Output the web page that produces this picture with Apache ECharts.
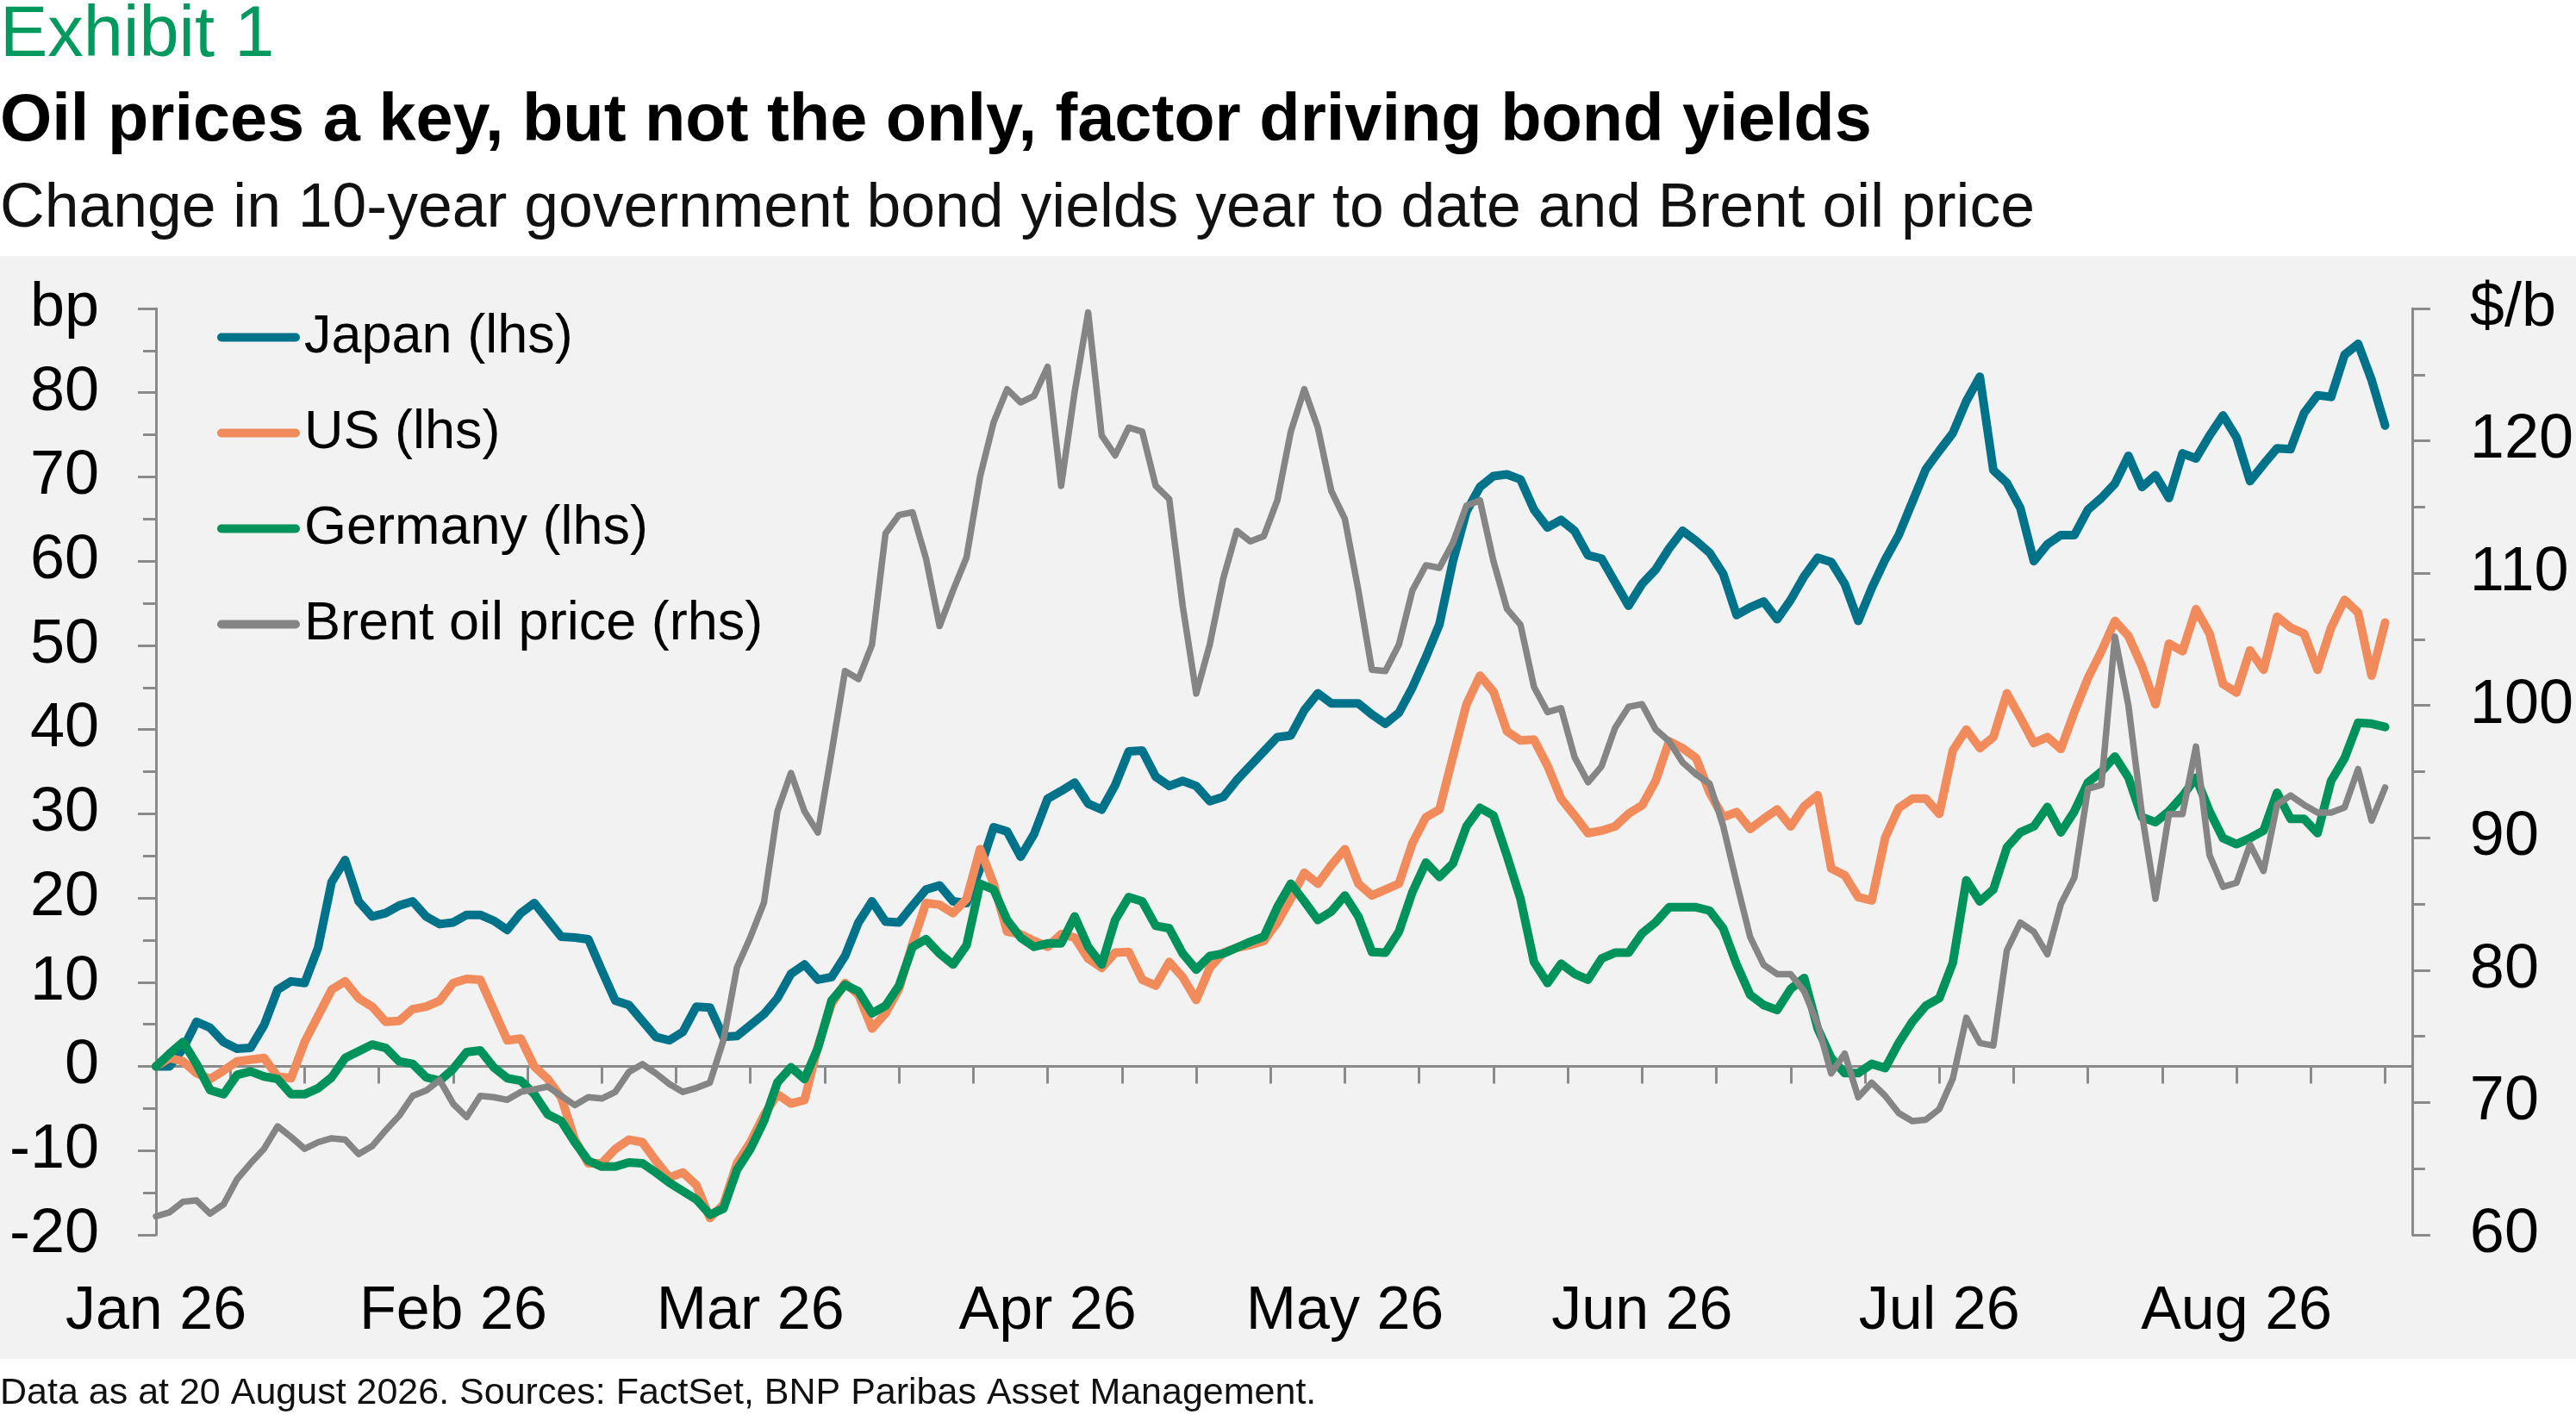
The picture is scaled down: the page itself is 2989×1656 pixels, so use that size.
<!DOCTYPE html>
<html>
<head>
<meta charset="utf-8">
<script src="https://cdn.jsdelivr.net/npm/echarts@6/dist/echarts.min.js"></script>
<style>
html,body{margin:0;padding:0;background:#ffffff;}
#chart{width:2989px;height:1656px;}
</style>
</head>
<body>
<div id="chart"></div>
<script>
// ---- Data (business days, 1 Jan 2026 to 20 Aug 2026) ----
const monthLabels = ['Jan 26','Feb 26','Mar 26','Apr 26','May 26','Jun 26','Jul 26','Aug 26'];
const daysPerMonthLabel = 22;
const seriesNames = ['Japan (lhs)','US (lhs)','Germany (lhs)','Brent oil price (rhs)'];

const japan = [0,0,2.1,5.3,4.6,2.9,2.1,2.2,4.9,9.1,10.1,9.9,14.1,21.9,24.5,19.6,17.8,18.2,19.1,19.6,17.8,16.9,17.1,18,18,17.3,16.2,18.2,19.4,17.4,15.4,15.3,15.1,11.4,7.8,7.3,5.4,3.5,3.1,4.1,7.1,7,3.5,
3.6,4.9,6.2,8.1,11,12.1,10.3,10.6,13.1,17.1,19.6,17.2,17.1,19.1,21,21.5,19.6,19.4,23.5,28.4,27.9,24.9,27.6,31.8,32.7,33.7,31.2,30.5,33.4,37.4,37.5,34.4,33.3,33.9,33.3,31.5,32,34,35.7,37.4,39.1,39.3,
42.3,44.3,43.1,43.1,43.1,41.8,40.7,42,45,48.6,52.5,60,65.9,68.8,70.1,70.3,69.7,66.1,64,64.9,63.6,60.7,60.3,57.5,54.7,57.3,59,61.5,63.6,62.4,61,58.5,53.6,54.5,55.2,53.1,55.4,58.2,60.4,59.9,57.3,52.9,
56.8,60.2,63.1,67,70.9,73.1,75.2,79,81.9,70.8,69.3,66.3,60,62,63.1,63.1,66.1,67.5,69.2,72.5,68.8,70.2,67.5,72.8,72.2,74.9,77.3,74.7,69.5,71.5,73.4,73.3,77.6,79.7,79.5,84.5,85.8,81.5,76.1];

const us = [0,1.0,0.6,-0.8,-1.5,-0.5,0.6,0.8,1.0,-1.2,-1.4,2.9,6.0,9.1,10.1,8.1,7.1,5.3,5.4,6.8,7.1,7.8,9.9,10.4,10.3,6.7,3.1,3.3,0,-1.5,-3.7,-8.7,-11.5,-11.5,-9.8,-8.7,-9,-11.2,-13.2,-12.6,-14.1,-18,-16.4,
-11.5,-9,-5.8,-3.3,-4.4,-4,2.4,7.4,9.9,8.5,4.5,6.3,9.2,14.6,19.4,19.2,18.2,19.9,25.8,21.7,16,15.7,14.9,14.2,15.7,15.3,12.8,11.7,13.5,13.6,10.3,9.6,12.4,10.6,7.9,11.7,13.5,14.1,14.4,14.9,17.1,19.9,
23,21.7,23.9,25.8,21.7,20.3,21,21.7,26.5,29.6,30.5,36.8,43,46.4,44.5,39.8,38.7,38.8,35.7,31.8,29.8,27.7,28,28.5,30,31,33.9,38.6,37.8,36.6,32.5,29.6,30.2,28.2,29.4,30.5,28.5,30.9,32.2,23.5,22.7,20.1,
19.7,27.2,30.7,31.8,31.8,30,37.5,40,37.8,39.1,44.3,41.4,38.4,39.1,37.7,42.1,46.1,49.3,52.9,51.1,47.5,43,50.2,49.3,54.3,51.4,45.4,44.4,49.4,47.1,53.4,52.1,51.4,47.1,52.1,55.4,53.9,46.4,52.7];

const germany = [0,1.5,2.9,0.3,-2.8,-3.3,-1,-0.6,-1.2,-1.5,-3.3,-3.3,-2.6,-1.3,1,1.8,2.6,2.2,0.6,0.3,-1.3,-1.7,-0.3,1.7,1.9,-0.1,-1.4,-1.7,-3.3,-5.7,-6.5,-9,-11.2,-11.9,-11.9,-11.4,-11.5,-12.6,-13.8,-14.8,-15.8,-17.6,-16.9,
-12.3,-9.8,-6.5,-1.9,-0.1,-1.5,2.2,7.8,9.7,8.9,6.3,7.2,9.6,14.2,15.1,13.4,12.1,14.4,21.7,21,17.4,15.3,14.2,14.6,14.6,17.8,14.2,12.1,17.4,20.1,19.6,16.7,16.4,13.4,11.5,13.1,13.4,14.1,14.8,15.4,18.9,21.7,
19.6,17.4,18.4,20.3,17.8,13.6,13.5,16,20.7,24.2,22.5,24.1,28.5,30.7,29.8,25,19.9,12.4,9.9,12.2,11,10.3,12.8,13.5,13.5,15.8,17.1,18.9,18.9,18.9,18.5,16.4,12.1,8.5,7.3,6.7,9.2,10.5,4.5,1,-0.8,-0.8,
0.3,-0.2,2.8,5.3,7.2,8.1,12.3,22.1,19.6,21,26,27.8,28.5,30.8,27.8,30.3,33.7,35,36.8,34.3,29.6,29,30.3,32.1,34.3,30.3,27.1,26.4,27.1,28,32.5,29.4,29.4,27.7,33.9,36.6,40.8,40.7,40.3];

const brent = [61.4,61.7,62.5,62.6,61.6,62.3,64.2,65.4,66.5,68.2,67.4,66.5,67,67.3,67.2,66.1,66.7,67.9,69,70.5,70.9,71.7,69.9,68.9,70.5,70.4,70.2,70.8,71,71.2,70.5,69.8,70.4,70.3,70.8,72.3,72.9,72.2,71.4,70.8,71.1,71.5,74.7,
80.2,82.5,85.1,92,94.9,92,90.4,96.4,102.6,102,104.6,113,114.4,114.6,111.1,106,108.7,111.2,117.3,121.4,123.9,122.9,123.4,125.6,116.6,123.7,129.7,120.4,118.9,121,120.7,116.6,115.6,107.5,100.9,104.6,109.6,113.2,112.4,112.8,115.5,120.7,
123.9,121,116.2,114.1,108.7,102.7,102.6,104.6,108.7,110.6,110.4,112.3,115.1,115.5,110.9,107.3,106.1,101.4,99.5,99.8,96.1,94.2,95.4,98.3,99.9,100.1,98.2,97.3,95.7,94.8,94.1,90.9,86.6,82.5,80.4,79.7,79.7,78.4,75.9,72.2,73.7,70.4,
71.5,70.5,69.2,68.6,68.7,69.5,71.8,76.4,74.5,74.3,81.5,83.6,82.9,81.2,85,87,93.7,94,105.2,100,91.8,85.4,91.8,91.8,96.9,88.7,86.3,86.6,89.5,87.5,92.5,93.2,92.5,91.9,91.9,92.3,95.2,91.3,93.8];

// ---- Styling ----
const FONT = "'Liberation Sans', Arial, sans-serif";
const AXIS_GREY = '#8a8a8a';
const COLORS = ['#00728a', '#f28b5b', '#00925b', '#858585'];
const X_MAX = 167;
const X_TICK = 5.5;

function toPairs(arr) { return arr.map(function (v, i) { return [i, v]; }); }

const chart = echarts.init(document.getElementById('chart'), null, {renderer: 'canvas'});

function lineSeries(name, data, color, width, yIdx, z) {
  return {
    name: name, type: 'line', xAxisIndex: 0, yAxisIndex: yIdx,
    data: toPairs(data), symbol: 'none', showSymbol: false, smooth: false,
    color: color, z: z,
    lineStyle: {color: color, width: width, cap: 'round', join: 'round'},
    emphasis: {disabled: true}
  };
}

const option = {
  animation: false,
  backgroundColor: '#ffffff',
  textStyle: {fontFamily: FONT},
  graphic: {elements: [
    {type: 'rect', z: -10, silent: true, shape: {x: 0, y: 297, width: 2989, height: 1280}, style: {fill: '#f2f2f2'}}
  ]},
  title: [
    {text: 'Exhibit 1', left: 0, top: 1, textStyle: {color: '#009a5e', fontSize: 83, lineHeight: 83, fontWeight: 'normal', fontFamily: FONT}, padding: 0},
    {text: 'Oil prices a key, but not the only, factor driving bond yields', left: 0, top: 103, textStyle: {color: '#000', fontSize: 77.5, lineHeight: 77.5, fontWeight: 'bold', fontFamily: FONT}, padding: 0},
    {text: 'Change in 10-year government bond yields year to date and Brent oil price', left: 0, top: 208, textStyle: {color: '#111', fontSize: 71.5, lineHeight: 71.5, fontWeight: 'normal', fontFamily: FONT}, padding: 0},
    {text: 'Data as at 20 August 2026. Sources: FactSet, BNP Paribas Asset Management.', left: 0, top: 1596, textStyle: {color: '#111', fontSize: 43, lineHeight: 43, fontWeight: 'normal', fontFamily: FONT}, padding: 0}
  ],
  legend: {
    data: seriesNames, orient: 'vertical', left: 252, top: 360,
    itemWidth: 96, itemHeight: 10, itemGap: 48, selectedMode: false, padding: 0,
    icon: 'path://M5,0 L91,0 A5,5 0 0 1 91,10 L5,10 A5,5 0 0 1 5,0 Z',
    itemStyle: {borderWidth: 0},
    textStyle: {fontSize: 63, lineHeight: 62, color: '#000', fontFamily: FONT}
  },
  grid: {left: 181, right: 188, top: 358, bottom: 223, containLabel: false},
  xAxis: [
    {
      type: 'value', min: 0, max: X_MAX, interval: X_TICK, position: 'bottom',
      axisLine: {show: true, onZero: true, onZeroAxisIndex: 0, lineStyle: {color: AXIS_GREY, width: 3}},
      axisTick: {show: true, inside: false, length: 20, lineStyle: {color: AXIS_GREY, width: 3}},
      axisLabel: {show: false},
      splitLine: {show: false}
    },
    {
      type: 'value', min: 0, max: X_MAX, interval: X_TICK, position: 'bottom',
      axisLine: {show: false, onZero: false},
      axisTick: {show: false},
      splitLine: {show: false},
      axisLabel: {
        show: true, margin: 55, fontSize: 70, lineHeight: 70, color: '#000', fontFamily: FONT,
        formatter: function (value) {
          const idx = Math.round(value);
          if (Math.abs(value - idx) > 1e-6 || idx % daysPerMonthLabel !== 0) return '';
          const m = idx / daysPerMonthLabel;
          return m < monthLabels.length ? monthLabels[m] : '';
        }
      }
    }
  ],
  yAxis: [
    {
      type: 'value', position: 'left', min: -20, max: 90, interval: 10,
      axisLine: {show: true, onZero: false, lineStyle: {color: AXIS_GREY, width: 3}},
      axisTick: {show: true, inside: false, length: 21, lineStyle: {color: AXIS_GREY, width: 3}},
      minorTick: {show: true, splitNumber: 2, length: 15, lineStyle: {color: AXIS_GREY, width: 3}},
      splitLine: {show: false}, minorSplitLine: {show: false},
      axisLabel: {margin: 66, fontSize: 72, color: '#000', fontFamily: FONT,
        formatter: function (v) { return v === 90 ? 'bp' : String(v); }}
    },
    {
      type: 'value', position: 'right', min: 60, max: 130, interval: 10,
      axisLine: {show: true, onZero: false, lineStyle: {color: AXIS_GREY, width: 3}},
      axisTick: {show: true, inside: false, length: 21, lineStyle: {color: AXIS_GREY, width: 3}},
      minorTick: {show: true, splitNumber: 2, length: 15, lineStyle: {color: AXIS_GREY, width: 3}},
      splitLine: {show: false}, minorSplitLine: {show: false},
      axisLabel: {margin: 67, fontSize: 72, color: '#000', fontFamily: FONT,
        formatter: function (v) { return v === 130 ? '$/b' : String(v); }}
    }
  ],
  series: [
    lineSeries(seriesNames[0], japan, COLORS[0], 10, 0, 3),
    lineSeries(seriesNames[1], us, COLORS[1], 10, 0, 4),
    lineSeries(seriesNames[2], germany, COLORS[2], 10, 0, 5),
    lineSeries(seriesNames[3], brent, COLORS[3], 7.5, 1, 6)
  ]
};

chart.setOption(option);
</script>
</body>
</html>
